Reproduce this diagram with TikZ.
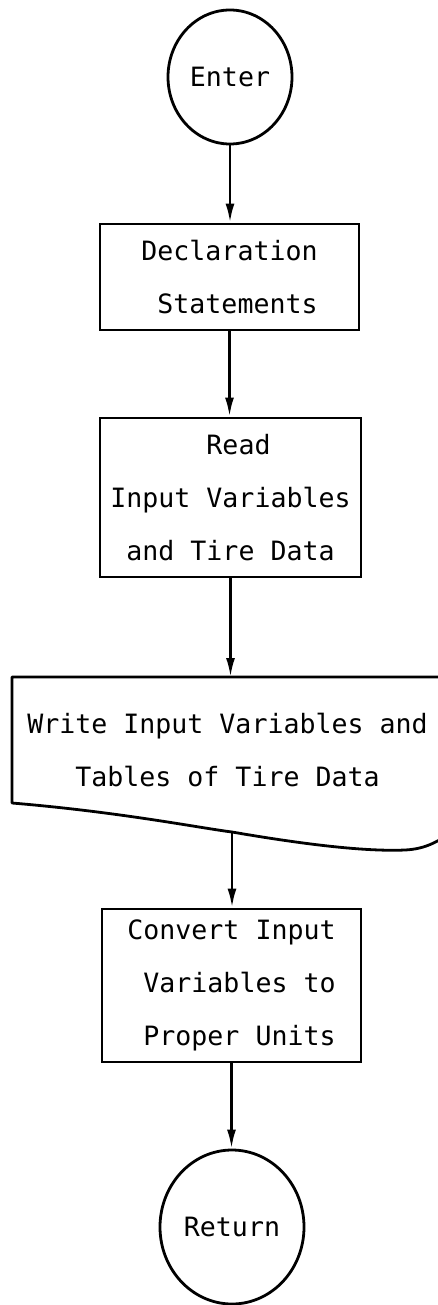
\documentclass[tikz,border=0pt]{standalone}
\usepackage{fontspec}
\setmainfont{DejaVu Sans Mono}
\usetikzlibrary{shapes.geometric,arrows.meta}
\begin{document}
\begin{tikzpicture}[x=1pt,y=-1pt,
  line width=2.8pt,
  every node/.style={font=\fontsize{26.6}{53}\selectfont, inner sep=0pt},
  term/.style={draw, ellipse, line width=2.8pt},
  procbox/.style={draw, rectangle, align=left, line width=2.8pt},
  arr/.style={-{Latex[length=19pt,width=9pt]}, line width=2.6pt}]
\useasboundingbox (0,0) rectangle (438,1305);
\node[term, minimum width=124pt, minimum height=134pt] (enter) at (230,77) {Enter};
\node[procbox, minimum width=259pt, minimum height=106pt] (decl) at (229.5,277)
  {Declaration\\\hphantom{0}Statements};
\node[procbox, minimum width=261pt, minimum height=159pt] (read) at (230.5,497.5)
  {\hphantom{000000}Read\\Input Variables\\\hphantom{0}and Tire Data};
% document shape
\coordinate (wtop) at (232,677);
\coordinate (wbot) at (232,832);
\begin{scope}
\clip (0,0) rectangle (438,1305);
\draw[line width=2.8pt, line join=round] (460,677) -- (12,677) -- (12,803)
  .. controls (120,812) and (200,828) .. (wbot)
  .. controls (290,842) and (360,852) .. (405,850)
  .. controls (425,849) and (440,842) .. (460,825) -- cycle;
\end{scope}
\node[align=left] (write) at (227.5,750)
  {Write Input Variables and\\\hphantom{000}Tables of Tire Data};
\node[procbox, minimum width=259pt, minimum height=153pt] (conv) at (231.5,985.5)
  {Convert Input\\\hphantom{0}Variables to\\\hphantom{0}Proper Units};
\node[term, minimum width=144pt, minimum height=154pt] (ret) at (232,1227) {Return};
\draw[arr] (enter.south) -- (enter.south |- decl.north);
\draw[arr] (decl.south) -- (decl.south |- read.north);
\draw[arr] (read.south) -- (read.south |- wtop);
\draw[arr] (wbot) -- (wbot |- conv.north);
\draw[arr] (conv.south) -- (conv.south |- ret.north);
\end{tikzpicture}
\end{document}
